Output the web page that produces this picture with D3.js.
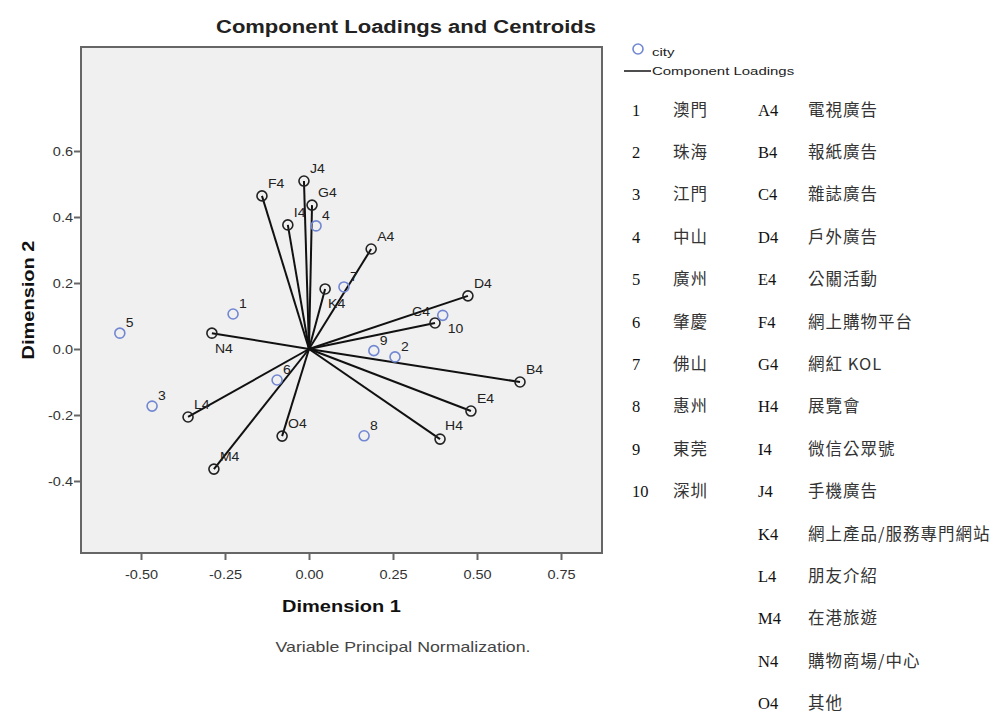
<!DOCTYPE html>
<html><head><meta charset="utf-8">
<script src="https://cdn.jsdelivr.net/npm/d3@7"></script>
<style>
body{margin:0;background:#fff;}
svg{display:block;}
</style></head>
<body><svg id="chart" width="1004" height="715"></svg>
<script>
// ---- data ----
const loadingNames = ["A4","B4","C4","D4","E4","F4","G4","H4","I4","J4","K4","L4","M4","N4","O4"];
const loadingDim1  = [0.185, 0.628, 0.375, 0.473, 0.482, -0.140, 0.009, 0.390, -0.063, -0.015, 0.048, -0.360, -0.283, -0.289, -0.080];
const loadingDim2  = [0.303, -0.100, 0.079, 0.161, -0.188, 0.464, 0.436, -0.273, 0.376, 0.509, 0.182, -0.206, -0.364, 0.048, -0.264];

const cityNames = ["1","2","3","4","5","6","7","8","9","10"];
const cityDim1  = [-0.226, 0.256, -0.467, 0.021, -0.563, -0.095, 0.104, 0.164, 0.193, 0.398];
const cityDim2  = [0.106, -0.024, -0.173, 0.373, 0.048, -0.094, 0.188, -0.263, -0.005, 0.102];

const xTicks = [-0.50, -0.25, 0.00, 0.25, 0.50, 0.75];
const yTicks = [-0.4, -0.2, 0.0, 0.2, 0.4, 0.6];

const cityCodes = ["1","2","3","4","5","6","7","8","9","10"];
const cityLabels = ["澳門","珠海","江門","中山","廣州","肇慶","佛山","惠州","東莞","深圳"];
const itemCodes = ["A4","B4","C4","D4","E4","F4","G4","H4","I4","J4","K4","L4","M4","N4","O4"];
const itemLabels = ["電視廣告","報紙廣告","雜誌廣告","戶外廣告","公關活動","網上購物平台","網紅 KOL","展覽會","微信公眾號","手機廣告","網上產品/服務專門網站","朋友介紹","在港旅遊","購物商場/中心","其他"];

const titleText = "Component Loadings and Centroids";
const xTitle = "Dimension 1", yTitle = "Dimension 2";
const noteText = "Variable Principal Normalization.";

// ---- layout ----
const svg = d3.select("#chart");
const L = 81, R = 602, T = 47, B = 553;
const x = d3.scaleLinear().domain([(L-309)/336, (R-309)/336]).range([L, R]);
const y = d3.scaleLinear().domain([(349-B)/330, (349-T)/330]).range([B, T]);
const SANS = "'Liberation Sans', Arial, sans-serif";
const K = 1.25; // horizontal stretch of chart text
function stretch(sel, k){ sel.each(function(){ const w=this.getComputedTextLength(); d3.select(this).attr("textLength", w*k).attr("lengthAdjust","spacingAndGlyphs"); }); }
const fmtMinus = f => v => f(v).replace("\u2212","-");

// plot background + frame
svg.append("rect").attr("x",L).attr("y",T).attr("width",R-L).attr("height",B-T)
  .attr("fill","#f0f0f0").attr("stroke","#666").attr("stroke-width",2);

// axes
const gx = svg.append("g").attr("transform",`translate(0,${B})`)
  .call(d3.axisBottom(x).tickValues(xTicks).tickFormat(fmtMinus(d3.format(".2f"))).tickSize(7).tickSizeOuter(0));
const gy = svg.append("g").attr("transform",`translate(${L},0)`)
  .call(d3.axisLeft(y).tickValues(yTicks).tickFormat(fmtMinus(d3.format(".1f"))).tickSize(7).tickSizeOuter(0));
[gx,gy].forEach(g=>{
  g.select(".domain").remove();
  g.selectAll(".tick line").attr("stroke","#666").attr("stroke-width",2);
  g.selectAll(".tick text").attr("fill","#333").attr("font-family",SANS).attr("font-size",12.6);
});
gx.selectAll(".tick text").attr("dy",null).attr("y",26);
gy.selectAll(".tick text").attr("x",-8).attr("dy","0.35em");
stretch(gx.selectAll(".tick text"),1.15);
stretch(gy.selectAll(".tick text"),1.15);

// titles
const title = svg.append("text").attr("x",406).attr("y",33).attr("text-anchor","middle")
  .attr("font-family",SANS).attr("font-weight","bold").attr("font-size",17.6).attr("fill","#222").text(titleText);
const xt = svg.append("text").attr("x",(L+R)/2).attr("y",612).attr("text-anchor","middle")
  .attr("font-family",SANS).attr("font-weight","bold").attr("font-size",16).attr("fill","#111").text(xTitle);
const yt = svg.append("text").attr("transform",`translate(34,${(T+B)/2}) rotate(-90)`).attr("text-anchor","middle")
  .attr("font-family",SANS).attr("font-weight","bold").attr("font-size",16).attr("fill","#111").text(yTitle);
const note = svg.append("text").attr("x",403).attr("y",652).attr("text-anchor","middle")
  .attr("font-family",SANS).attr("font-size",14.2).attr("fill","#444").text(noteText);
[title,xt,yt,note].forEach(t=>stretch(t,K));

// plot contents
const plot = svg.append("g");
const loadings = loadingNames.map((n,i)=>({name:n, d1:loadingDim1[i], d2:loadingDim2[i]}));
const cities = cityNames.map((n,i)=>({name:n, d1:cityDim1[i], d2:cityDim2[i]}));

plot.selectAll("line.ld").data(loadings).join("line").attr("class","ld")
  .attr("x1",x(0)).attr("y1",y(0)).attr("x2",d=>x(d.d1)).attr("y2",d=>y(d.d2))
  .attr("stroke","#111").attr("stroke-width",2);
plot.selectAll("circle.ld").data(loadings).join("circle").attr("class","ld")
  .attr("cx",d=>x(d.d1)).attr("cy",d=>y(d.d2)).attr("r",5)
  .attr("fill","none").attr("stroke","#222").attr("stroke-width",1.6);
plot.selectAll("circle.ct").data(cities).join("circle").attr("class","ct")
  .attr("cx",d=>x(d.d1)).attr("cy",d=>y(d.d2)).attr("r",5)
  .attr("fill","none").attr("stroke","#7287d2").attr("stroke-width",1.6);

const ldOff = {C4:[-5,-7,"end"], K4:[3,19,"start"], N4:[3,20,"start"], H4:[5,-9,"start"]};
const ctOff = {"10":[5,18,"start"]};
const ldT = plot.selectAll("text.ld").data(loadings).join("text").attr("class","ld")
  .attr("x",d=>x(d.d1)+(ldOff[d.name]||[6,-8])[0]).attr("y",d=>y(d.d2)+(ldOff[d.name]||[6,-8])[1])
  .attr("text-anchor",d=>(ldOff[d.name]||[0,0,"start"])[2])
  .attr("font-family",SANS).attr("font-size",12.5).attr("fill","#222").text(d=>d.name);
const ctT = plot.selectAll("text.ct").data(cities).join("text").attr("class","ct")
  .attr("x",d=>x(d.d1)+(ctOff[d.name]||[6,-6])[0]).attr("y",d=>y(d.d2)+(ctOff[d.name]||[6,-6])[1])
  .attr("text-anchor","start")
  .attr("font-family",SANS).attr("font-size",12.5).attr("fill","#222").text(d=>d.name);
stretch(ldT,1.12); stretch(ctT,1.12);

// legend
svg.append("circle").attr("cx",638).attr("cy",49).attr("r",5).attr("fill","none").attr("stroke","#7287d2").attr("stroke-width",1.6);
svg.append("line").attr("x1",624).attr("x2",651).attr("y1",71).attr("y2",71).attr("stroke","#222").attr("stroke-width",1.6);
const lg1 = svg.append("text").attr("x",652).attr("y",56).attr("font-family",SANS).attr("font-size",11.5).attr("fill","#222").text("city");
const lg2 = svg.append("text").attr("x",652).attr("y",75).attr("font-family",SANS).attr("font-size",11.5).attr("fill","#222").text("Component Loadings");
stretch(lg1,1.3); stretch(lg2,1.3);

// code table
const SERIF = "'Liberation Serif','Times New Roman',serif";
const CJK = "'Noto Sans CJK TC','Noto Sans CJK SC',sans-serif";
const rowY = i => 110 + i*42.4 + 5.5;
const tbl = svg.append("g");
tbl.selectAll("text.cc").data(cityCodes).join("text").attr("class","cc")
  .attr("x",632).attr("y",(d,i)=>rowY(i)).attr("font-family",SERIF).attr("font-size",16.5).attr("fill","#111").text(d=>d);
tbl.selectAll("text.cl").data(cityLabels).join("text").attr("class","cl")
  .attr("x",673).attr("y",(d,i)=>rowY(i)).attr("font-family",CJK).attr("font-size",16.5).attr("letter-spacing",1).attr("fill","#333").text(d=>d);
tbl.selectAll("text.ic").data(itemCodes).join("text").attr("class","ic")
  .attr("x",758).attr("y",(d,i)=>rowY(i)).attr("font-family",SERIF).attr("font-size",16.5).attr("fill","#111").text(d=>d);
tbl.selectAll("text.il").data(itemLabels).join("text").attr("class","il")
  .attr("x",808).attr("y",(d,i)=>rowY(i)).attr("font-family",CJK).attr("font-size",16.5).attr("letter-spacing",1).attr("fill","#333").text(d=>d);
</script>
</body></html>
